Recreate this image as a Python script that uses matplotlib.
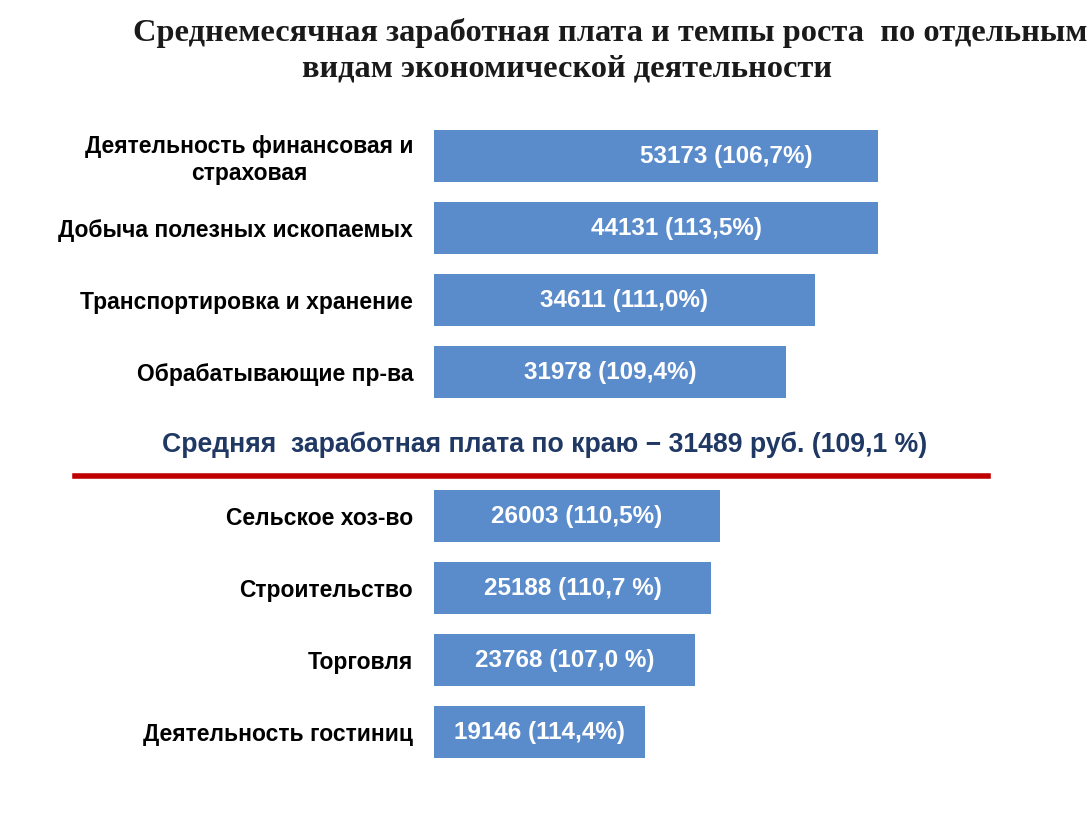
import matplotlib
matplotlib.use("Agg")
import matplotlib.pyplot as plt

categories = ["Деятельность финансовая и\nстраховая", "Добыча полезных ископаемых",
              "Транспортировка и хранение", "Обрабатывающие пр-ва",
              "Сельское хоз-во", "Строительство", "Торговля", "Деятельность гостиниц"]
wages = [53173, 44131, 34611, 31978, 26003, 25188, 23768, 19146]
growth = ["106,7%", "113,5%", "111,0%", "109,4%", "110,5%", "110,7 %", "107,0 %", "114,4%"]
avg_text = "Средняя  заработная плата по краю \u2212 31489 руб. (109,1 %)"
title1 = "Среднемесячная заработная плата и темпы роста  по отдельным"
title2 = "видам экономической деятельности"

positions = [0, 1, 2, 3, 5, 6, 7, 8]
xmax = 40360

W, H = 1092, 815
fig = plt.figure(figsize=(W / 100, H / 100), dpi=100)
ax = fig.add_axes([434 / W, 1 - 768 / H, (878 - 434) / W, (768 - 120) / H])
ax.barh(positions, wages, height=0.71, color="#5A8BCB", edgecolor="none")
ax.set_xlim(0, xmax)
ax.set_ylim(8.5, -0.5)
for s in ax.spines.values():
    s.set_visible(False)
ax.set_xticks([])
ax.set_yticks(positions)
ax.set_yticklabels(categories, fontsize=16.5, fontweight="bold", family="Liberation Sans",
                   multialignment="center", linespacing=1.2)
ax.tick_params(axis="y", length=0, pad=15)

for p, w, g in zip(positions, wages, growth):
    ax.text(w / 2, p, f"{w} ({g})", ha="center", va="center", color="white",
            fontsize=17.5, fontweight="bold", family="Liberation Sans", clip_on=False)

fig.text(545 / W, 1 - 445 / H, avg_text, ha="center", va="center", color="#1F3864",
         fontsize=19.2, fontweight="bold", family="Liberation Sans")
fig.add_artist(plt.Line2D([75 / W, 988 / W], [1 - 476 / H, 1 - 476 / H],
                          color="#C00000", linewidth=4, transform=fig.transFigure))

fig.text(610 / W, 1 - 33 / H, title1, ha="center", va="center", color="#1a1a1a",
         fontsize=23.3, fontweight="bold", family="Liberation Serif")
fig.text(567 / W, 1 - 69 / H, title2, ha="center", va="center", color="#1a1a1a",
         fontsize=23.3, fontweight="bold", family="Liberation Serif")

fig.savefig("out.png", dpi=100, facecolor="white")
